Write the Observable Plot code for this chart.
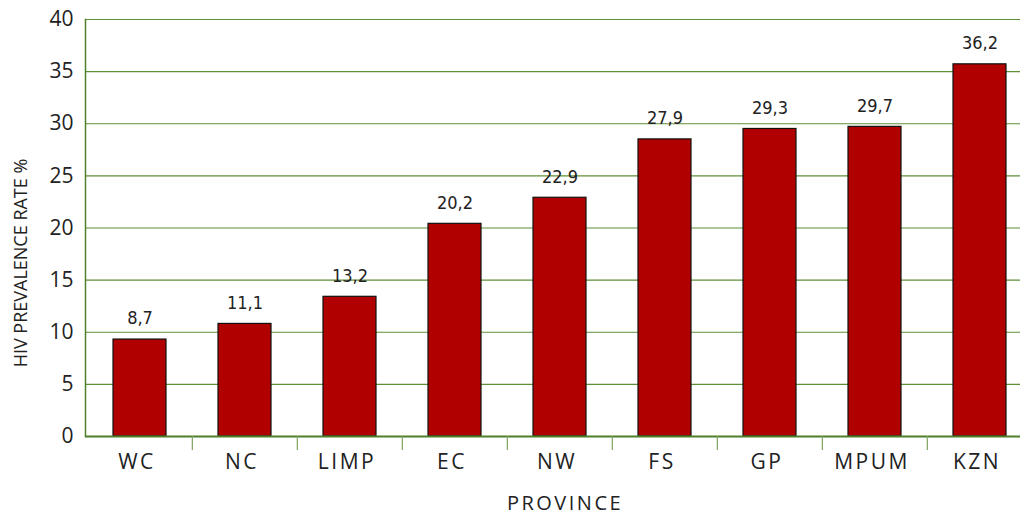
<!DOCTYPE html>
<html>
<head>
<meta charset="utf-8">
<script src="https://cdn.jsdelivr.net/npm/d3@7"></script>
<script src="https://cdn.jsdelivr.net/npm/@observablehq/plot@0.6"></script>
<style>
  html, body { margin: 0; padding: 0; background: #fff; overflow: hidden; }
  #chart svg { display: block; }
  #chart g[aria-label="x-axis tick label"] text { letter-spacing: 2.5px; }
</style>
</head>
<body>
<div id="chart"></div>
<script>
const provinces = ["WC", "NC", "LIMP", "EC", "NW", "FS", "GP", "MPUM", "KZN"];
// bar heights as drawn in the picture
const barHeights = [9.3, 10.8, 13.4, 20.4, 22.9, 28.5, 29.5, 29.7, 35.7];
// value labels printed above each bar
const valueLabels = ["8,7", "11,1", "13,2", "20,2", "22,9", "27,9", "29,3", "29,7", "36,2"];
const yTicks = [0, 5, 10, 15, 20, 25, 30, 35, 40];
const gridTicks = [5, 10, 15, 20, 25, 30, 35, 40];
const xTitle = "PROVINCE";
const yTitle = "HIV PREVALENCE RATE %";

const data = provinces.map((p, i) => ({province: p, value: barHeights[i], label: valueLabels[i]}));

const xRange = [85, 1033];
const step = (xRange[1] - xRange[0]) / provinces.length;
const green = "#5f8f37";
const axisGreen = "#4e7f2a";
const textColor = "#222";
const sans = "'Open Sans', 'DejaVu Sans', sans-serif";
const narrow = "'Liberation Sans Narrow', 'DejaVu Sans Condensed', sans-serif";

const chart = Plot.plot({
  width: 1020,
  height: 516,
  marginLeft: 85,
  marginRight: 0,
  marginTop: 19,
  marginBottom: 80,
  style: {background: "#fff", color: textColor, fontFamily: sans, overflow: "hidden"},
  x: {domain: provinces, range: xRange, paddingInner: 0.5, paddingOuter: 0.25, align: 0.5},
  y: {domain: [0, 40]},
  marks: [
    Plot.ruleY(gridTicks, {stroke: green, strokeWidth: 1.2}),
    Plot.barY(data, {x: "province", y: "value", fill: "#b10000", stroke: "#111", strokeWidth: 1.2}),
    Plot.ruleY([0], {stroke: axisGreen, strokeWidth: 1.8}),
    Plot.frame({anchor: "left", stroke: axisGreen, strokeWidth: 1.5}),
    Plot.ruleX(provinces.slice(1), {x: d => d, dx: -step / 2, y1: 0, y2: 0, insetBottom: -14, stroke: "#7ea35c", strokeWidth: 1.2}),
    Plot.text(data, {x: "province", y: "value", text: "label", dy: -21, fontSize: 18, fontFamily: narrow, fill: textColor, lineAnchor: "middle"}),
    Plot.axisY({ticks: yTicks, tickSize: 0, tickPadding: 12, fontSize: 21, label: null, tickFormat: d => String(d)}),
    Plot.axisX({tickSize: 0, tickPadding: 18, fontSize: 21, dx: -3, label: null}),
    Plot.text([xTitle], {frameAnchor: "bottom", textAnchor: "middle", dy: 67, dx: 12, fontSize: 20, lineAnchor: "middle", fill: textColor}),
    Plot.text([yTitle], {frameAnchor: "left", textAnchor: "middle", rotate: -90, dx: -64, dy: 35, fontSize: 18, lineAnchor: "middle", fill: textColor})
  ]
});
d3.select(chart).selectAll("text").filter(function () { return this.textContent === xTitle; }).style("letter-spacing", "2.5px");
document.getElementById("chart").appendChild(chart);
</script>
</body>
</html>
